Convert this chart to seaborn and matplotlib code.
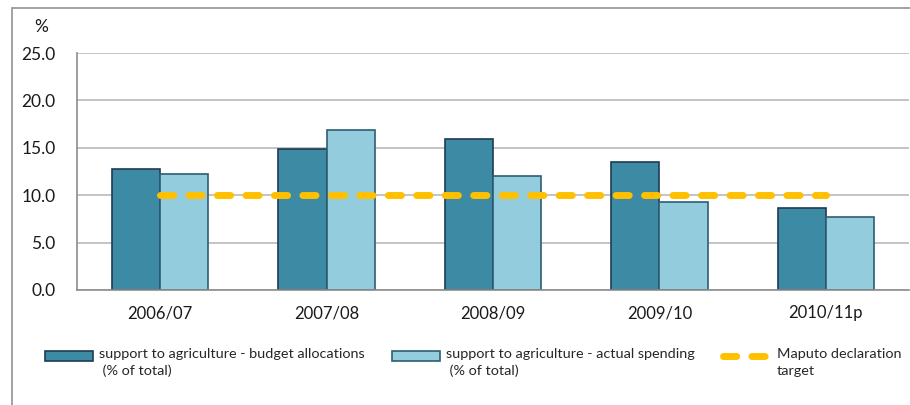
import matplotlib
matplotlib.use("Agg")
import matplotlib.pyplot as plt
from matplotlib.patches import Patch, Rectangle
from matplotlib.lines import Line2D
from matplotlib.legend_handler import HandlerPatch, HandlerLine2D
import seaborn as sns
import pandas as pd

# Data
years = ["2006/07", "2007/08", "2008/09", "2009/10", "2010/11p"]
budget_allocations = [12.8, 14.9, 15.9, 13.5, 8.7]
actual_spending = [12.2, 16.9, 12.0, 9.3, 7.7]
maputo_target = [10.0, 10.0, 10.0, 10.0, 10.0]
series_names = [
    "support to agriculture - budget allocations\n (% of total)",
    "support to agriculture - actual spending\n (% of total)",
    "Maputo declaration\ntarget",
]
y_ticks = [0, 5, 10, 15, 20, 25]

sns.set_style("white")
plt.rcParams["font.family"] = ["Lato", "DejaVu Sans"]
plt.rcParams["lines.scale_dashes"] = False

dark_fill, dark_edge = "#3C8AA3", "#1E3B52"
light_fill, light_edge = "#93CDDD", "#2F5D73"
gold = "#FFC000"
dash_pattern = (9.5, 11)
HANDLE_RAISE = 5.0  # points: keeps legend keys level with the first text line


class RaisedPatchHandler(HandlerPatch):
    def create_artists(self, legend, orig_handle, xdescent, ydescent,
                       width, height, fontsize, trans):
        return super().create_artists(legend, orig_handle, xdescent,
                                      ydescent - HANDLE_RAISE, width, height,
                                      fontsize, trans)


class RaisedLineHandler(HandlerLine2D):
    def create_artists(self, legend, orig_handle, xdescent, ydescent,
                       width, height, fontsize, trans):
        return super().create_artists(legend, orig_handle, xdescent,
                                      ydescent - 2 * HANDLE_RAISE, width,
                                      height, fontsize, trans)


df = pd.DataFrame({
    "year": years * 2,
    "value": budget_allocations + actual_spending,
    "series": [series_names[0]] * len(years) + [series_names[1]] * len(years),
})

fig = plt.figure(figsize=(9.10, 4.05), dpi=100)
ax = fig.add_axes([77 / 910, 1 - 290 / 405, 832 / 910, 237 / 405])

sns.barplot(data=df, x="year", y="value", hue="series", order=years,
            hue_order=series_names[:2], palette=[dark_fill, light_fill],
            width=0.58, gap=0, ax=ax, legend=False, linewidth=1.2,
            saturation=1)
for i, bar in enumerate(ax.patches):
    bar.set_edgecolor(dark_edge if i < len(years) else light_edge)

n_lines = len(ax.lines)
sns.pointplot(x=years, y=maputo_target, order=years, color=gold,
              markers="", linestyles="--", errorbar=None, ax=ax)
for line in ax.lines[n_lines:]:
    if len(line.get_xdata()) == len(years):
        line.set_linewidth(5)
        line.set_dashes(dash_pattern)
        line.set_dash_capstyle("round")
        line.set_zorder(5)

ax.set_xlim(-0.5, len(years) - 0.5)
ax.set_ylim(0, 25)
ax.set_yticks(y_ticks)
ax.set_yticklabels([f"{v:.1f}" for v in y_ticks], fontsize=12.5, color="#1a1a1a")
ax.set_xticks(range(len(years)))
ax.set_xticklabels(years, fontsize=12, color="#1a1a1a")
ax.set_xticks([i - 0.5 for i in range(len(years) + 1)], minor=True)
ax.tick_params(axis="x", which="major", length=0, pad=11)
ax.tick_params(axis="x", which="minor", length=5, color="#888888", width=1.2)
ax.tick_params(axis="y", length=5, color="#888888", width=1.2, pad=10.5)
ax.set_xlabel("")
ax.set_ylabel("")

ax.yaxis.grid(True, color="#C4C4C4", linewidth=1.4)
ax.set_axisbelow(True)
for side in ["top", "right"]:
    ax.spines[side].set_visible(False)
for side in ["left", "bottom"]:
    ax.spines[side].set_color("#8C8C8C")
    ax.spines[side].set_linewidth(1.2)

fig.text(41 / 910, 1 - 27 / 405, "%", fontsize=12.5, color="#1a1a1a",
         ha="center", va="center")

# Outer frame
fig.patches.append(Rectangle((12 / 910, -0.2), 1.2, 1.2 - 8 / 405,
                             transform=fig.transFigure, fill=False,
                             edgecolor="#9A9A9A", linewidth=1.3))

handles = [
    Patch(facecolor=dark_fill, edgecolor=dark_edge, linewidth=1.2),
    Patch(facecolor=light_fill, edgecolor=light_edge, linewidth=1.2),
    Line2D([0], [0], color=gold, linewidth=5, dashes=dash_pattern,
           dash_capstyle="round"),
]
leg = fig.legend(handles, series_names, loc="upper left",
                 bbox_to_anchor=(45 / 910, 1 - 348 / 405), ncol=3,
                 frameon=False, fontsize=10.4, handlelength=3.3,
                 handletextpad=0.45, columnspacing=1.9, borderaxespad=0,
                 borderpad=0, labelspacing=0,
                 handler_map={Patch: RaisedPatchHandler(),
                              Line2D: RaisedLineHandler()})
for txt in leg.get_texts():
    txt.set_linespacing(1.45)

fig.savefig("out.png", dpi=100)
